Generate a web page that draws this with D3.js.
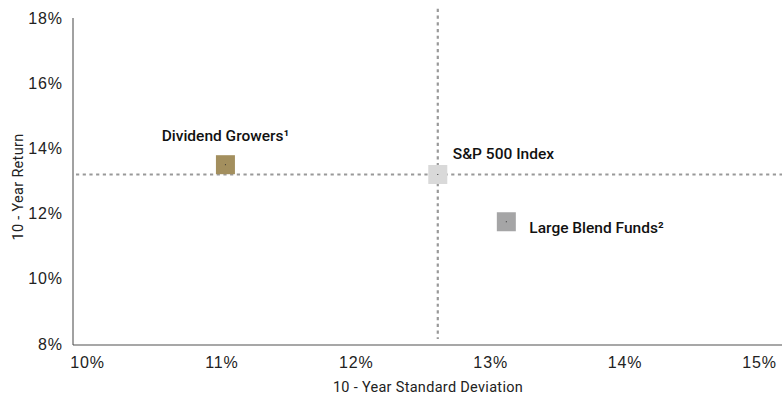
<!DOCTYPE html>
<html>
<head>
<meta charset="utf-8">
<script src="https://cdn.jsdelivr.net/npm/d3@7"></script>
<style>
  body { margin: 0; background: #fff; }
  svg { display: block; font-family: Roboto, "DejaVu Sans", sans-serif; }
  .tick text { font-size: 16px; fill: #222; letter-spacing: 0.9px; }
  .axis-title { font-size: 14.5px; fill: #222; letter-spacing: 0.3px; }
  .pt-label { font-size: 15.5px; font-weight: 500; fill: #111; }
</style>
</head>
<body>
<svg id="chart" width="782" height="397"></svg>
<script>
// data
var names = ["Dividend Growers¹", "S&P 500 Index", "Large Blend Funds²"];
var stdDev = [11.03, 12.61, 13.12];
var returns = [13.5, 13.2, 11.75];
var colors = ["#a38f5e", "#d9d9d9", "#a5a5a6"];
var xTicks = [10, 11, 12, 13, 14, 15];
var yTicks = [8, 10, 12, 14, 16, 18];
// benchmark cross-hair (S&P 500)
var benchX = 12.61, benchY = 13.2;

var margin = {top: 18, right: 2, bottom: 52, left: 73},
    width = 782 - margin.left - margin.right,
    height = 397 - margin.top - margin.bottom;

var svg = d3.select("#chart")
  .append("g")
    .attr("transform", "translate(" + margin.left + "," + margin.top + ")");

var x = d3.scaleLinear().domain([10, 15]).range([14, 686]);
var y = d3.scaleLinear().domain([8, 18]).range([height - 1, 0]);

var xAxis = d3.axisBottom(x)
    .tickValues(xTicks)
    .tickSize(0)
    .tickPadding(12)
    .tickFormat(function(d) { return d + "%"; });

var yAxis = d3.axisLeft(y)
    .tickValues(yTicks)
    .tickSize(0)
    .tickPadding(10)
    .tickFormat(function(d) { return d + "%"; });

svg.append("g")
    .attr("class", "x axis")
    .attr("transform", "translate(0," + height + ")")
    .call(xAxis)
    .call(function(g) { g.select(".domain").attr("stroke", "#8a8a8a").attr("stroke-width", 1.5).attr("d", "M0,0H" + (width + margin.right)); });

svg.append("g")
    .attr("class", "y axis")
    .call(yAxis)
    .call(function(g) { g.select(".domain").attr("stroke", "#444").attr("stroke-width", 1).attr("d", "M0,0V" + height); });

// dotted reference lines
svg.append("line")
    .attr("x1", x(benchX)).attr("x2", x(benchX))
    .attr("y1", y(18.28)).attr("y2", y(8.15))
    .attr("stroke", "#999").attr("stroke-width", 2.2)
    .attr("stroke-dasharray", "3.2,3.5");

svg.append("line")
    .attr("x1", 3).attr("x2", width + margin.right)
    .attr("y1", y(benchY)).attr("y2", y(benchY))
    .attr("stroke", "#999").attr("stroke-width", 2.2)
    .attr("stroke-dasharray", "3.2,3.5");

var pts = names.map(function(n, i) {
  return {name: n, sd: stdDev[i], ret: returns[i], color: colors[i]};
});

var size = 19;
var pt = svg.selectAll(".pt")
    .data(pts)
  .enter().append("g")
    .attr("class", "pt")
    .attr("transform", function(d) { return "translate(" + x(d.sd) + "," + y(d.ret) + ")"; });

pt.append("rect")
    .attr("x", -size / 2).attr("y", -size / 2)
    .attr("width", size).attr("height", size)
    .attr("fill", function(d) { return d.color; });

pt.append("rect")
    .attr("x", -0.5).attr("y", -0.5)
    .attr("width", 1).attr("height", 1)
    .attr("fill", "#333");

// label placement per point
var labelPos = [
  {dx: 0, dy: -29, anchor: "middle"},
  {dx: 15, dy: -21, anchor: "start"},
  {dx: 23, dy: 6, anchor: "start"}
];

pt.append("text")
    .attr("class", "pt-label")
    .attr("x", function(d, i) { return labelPos[i].dx; })
    .attr("y", function(d, i) { return labelPos[i].dy; })
    .attr("dy", ".35em")
    .attr("text-anchor", function(d, i) { return labelPos[i].anchor; })
    .text(function(d) { return d.name; });

svg.append("text")
    .attr("class", "axis-title")
    .attr("x", 355)
    .attr("y", height + 42)
    .attr("dy", ".35em")
    .attr("text-anchor", "middle")
    .text("10 - Year Standard Deviation");

svg.append("text")
    .attr("class", "axis-title")
    .attr("transform", "translate(-55," + (y(13) + 6) + ") rotate(-90)")
    .attr("dy", ".35em")
    .attr("text-anchor", "middle")
    .text("10 - Year Return");
</script>
</body>
</html>
